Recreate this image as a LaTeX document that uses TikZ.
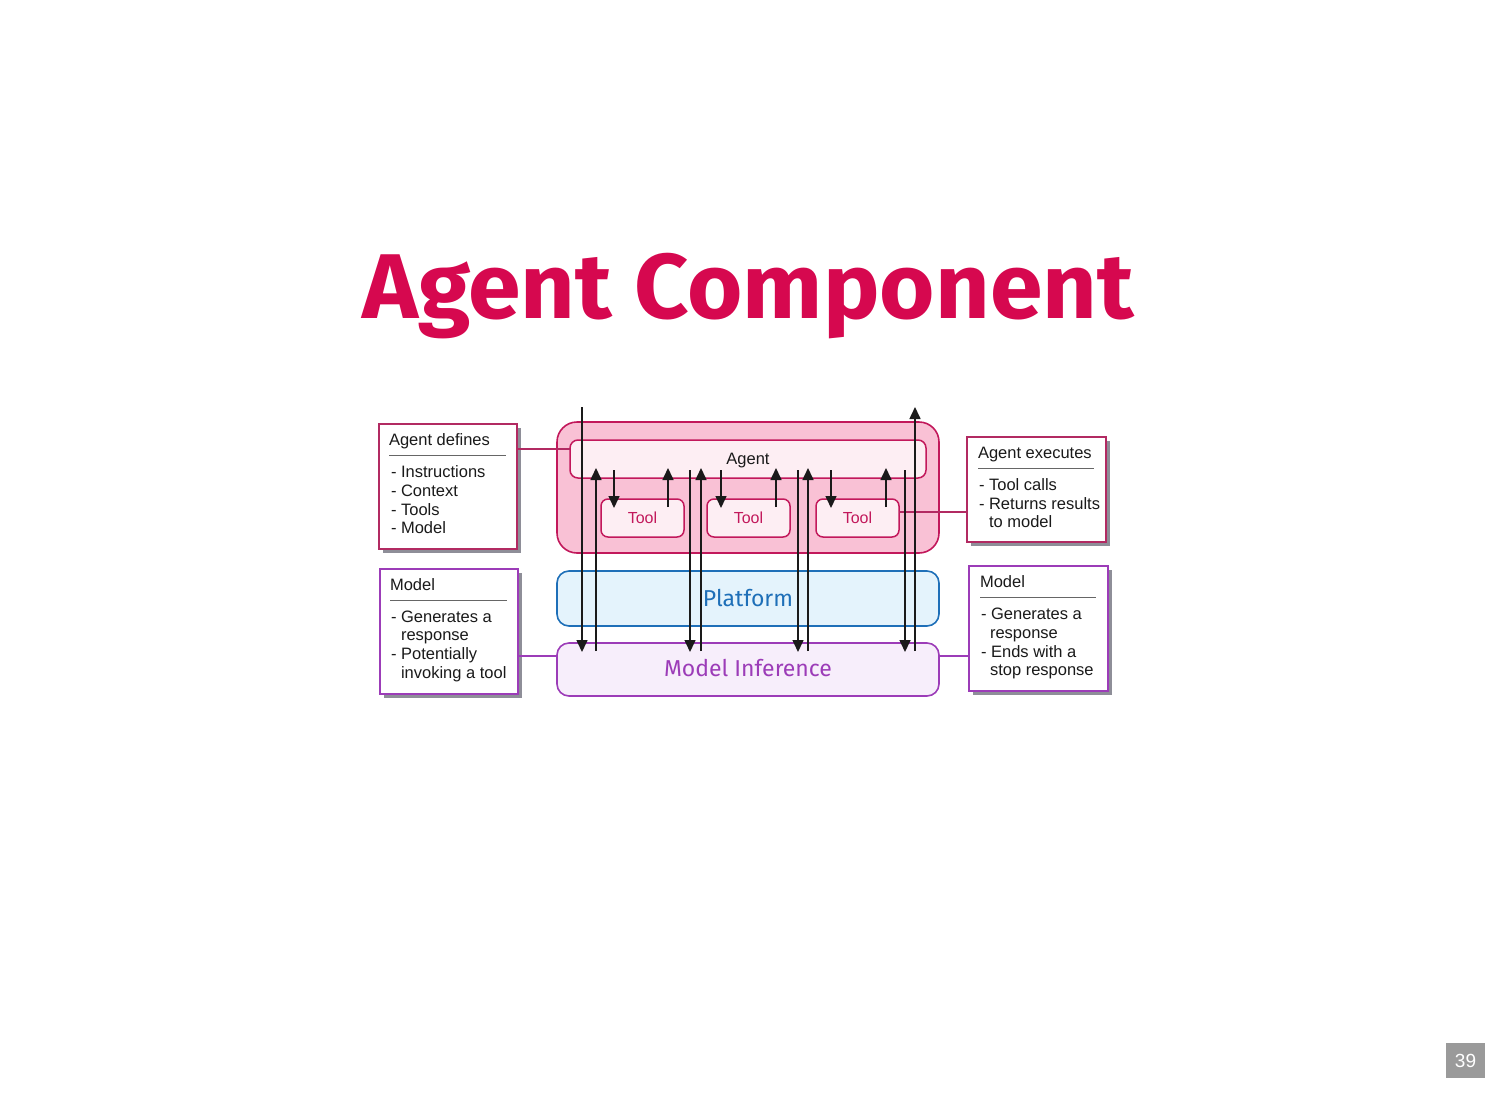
\documentclass[tikz,border=0pt]{standalone}
\usepackage{graphicx}
\usepackage{fontspec}
\setmainfont{Liberation Sans}
\newfontfamily\titlefont{Fira Sans}
\usetikzlibrary{arrows.meta,shadows}
\definecolor{crim}{HTML}{D6084F}
\definecolor{rosedraw}{HTML}{C2185B}
\definecolor{rosefill}{HTML}{F9C1D5}
\definecolor{rosepale}{HTML}{FDEEF3}
\definecolor{platdraw}{HTML}{1E6FB8}
\definecolor{platfill}{HTML}{E4F3FC}
\definecolor{purp}{HTML}{9C3CB8}
\definecolor{purpfill}{HTML}{F7EEFB}
\definecolor{notebord}{HTML}{B22A62}
\definecolor{shadowg}{HTML}{8E8E98}
\definecolor{pagegray}{HTML}{9A9A9A}
\definecolor{ink}{HTML}{1A1A1A}
\begin{document}
\begin{tikzpicture}[x=1pt,y=-1pt,
  every node/.style={inner sep=0pt, outer sep=0pt},
  bigbox/.style={draw, line width=1.6pt, rounded corners=#1, anchor=north west},
  toolbox/.style={draw=rosedraw, fill=rosepale, line width=1.5pt, rounded corners=7pt,
     minimum width=83pt, minimum height=38pt, anchor=north west, text=rosedraw, font=\fontsize{16}{18}\selectfont},
  notebox/.style={draw=#1, fill=white, line width=1.8pt, anchor=north west,
     drop shadow={shadow xshift=4pt, shadow yshift=-4pt, fill=shadowg, opacity=1}},
  notetxt/.style={anchor=base west, font=\fontsize{16.5}{18}\selectfont, text=ink},
  rule/.style={draw=gray!80!black, line width=0.9pt},
  arr/.style={draw=ink, line width=1.6pt, -{Triangle[length=12pt,width=11pt]}},
  link/.style={line width=1.5pt}
]
\useasboundingbox (0,0) rectangle (1498,1092);

% title
\node[text=crim, font=\titlefont\bfseries\fontsize{92}{96}\selectfont, anchor=base] (title) at (748,318) {\scalebox{1.032}[1]{Agent Component}};

% main boxes
\node[bigbox=20pt, draw=rosedraw, fill=rosefill, minimum width=382pt, minimum height=131pt] (outer) at (557,422) {};
\node[bigbox=8pt, draw=rosedraw, fill=rosepale, minimum width=356pt, minimum height=38pt, line width=1.5pt] (agent) at (570,440) {};
\node[text=ink, font=\fontsize{16.5}{18}\selectfont, anchor=base] (agentlbl) at (748,464) {Agent};
\node[toolbox] (tool1) at (601,499) {Tool};
\node[toolbox] (tool2) at (707,499) {Tool};
\node[toolbox] (tool3) at (816,499) {Tool};
\node[bigbox=12pt, draw=platdraw, fill=platfill, minimum width=382pt, minimum height=55pt] (plat) at (557,571) {};
\node[text=platdraw, font=\titlefont\fontsize{23}{26}\selectfont, anchor=base] (platlbl) at (748,606) {Platform};
\node[bigbox=12pt, draw=purp, fill=purpfill, minimum width=382pt, minimum height=53pt] (mi) at (557,643) {};
\node[text=purp, font=\titlefont\fontsize{23}{26}\selectfont, anchor=base] (milbl) at (748,676) {Model Inference};

% note boxes
\node[notebox=notebord, minimum width=138pt, minimum height=125pt] (ad) at (379,424) {};
\node[notetxt] (ad0) at (389,445) {Agent defines};
\draw[rule] (389,455) -- (506,455);
\node[notetxt] (ad1) at (391,477) {- Instructions};
\node[notetxt] (ad2) at (391,496) {- Context};
\node[notetxt] (ad3) at (391,515) {- Tools};
\node[notetxt] (ad4) at (391,533) {- Model};

\node[notebox=purp, minimum width=138pt, minimum height=125pt] (ml) at (380,569) {};
\node[notetxt] (ml0) at (390,590) {Model};
\draw[rule] (390,600) -- (507,600);
\node[notetxt] (ml1) at (391,622) {- Generates a};
\node[notetxt] (ml2) at (401,640) {response};
\node[notetxt] (ml3) at (391,659) {- Potentially};
\node[notetxt] (ml4) at (401,678) {invoking a tool};

\node[notebox=notebord, minimum width=139pt, minimum height=105pt] (ae) at (967,437) {};
\node[notetxt] (ae0) at (978,458) {Agent executes};
\draw[rule] (978,468) -- (1094,468);
\node[notetxt] (ae1) at (979,490) {- Tool calls};
\node[notetxt] (ae2) at (979,509) {- Returns results};
\node[notetxt] (ae3) at (989,527) {to model};

\node[notebox=purp, minimum width=139pt, minimum height=125pt] (mr) at (969,566) {};
\node[notetxt] (mr0) at (980,587) {Model};
\draw[rule] (980,597) -- (1096,597);
\node[notetxt] (mr1) at (981,619) {- Generates a};
\node[notetxt] (mr2) at (990,638) {response};
\node[notetxt] (mr3) at (981,657) {- Ends with a};
\node[notetxt] (mr4) at (990,675) {stop response};

% note links
\draw[link, draw=notebord] (ad.east |- 0,449) -- (agent.west |- 0,449);
\draw[link, draw=notebord] (tool3.east |- 0,512) -- (ae.west |- 0,512);
\draw[link, draw=purp] (ml.east |- 0,656) -- (mi.west |- 0,656);
\draw[link, draw=purp] (mi.east |- 0,656) -- (mr.west |- 0,656);

% entry / exit
\coordinate (inTop) at (582,407);
\coordinate (outTop) at (915,407);

% long arrows agent <-> model inference
\draw[arr] (inTop) -- ([yshift=-9pt]mi.north -| inTop);
\draw[arr] ([yshift=-8pt]mi.north -| 596,0) -- ([yshift=10pt]agent.south -| 596,0);
\draw[arr] ([yshift=8pt]agent.south -| 690,0) -- ([yshift=-9pt]mi.north -| 690,0);
\draw[arr] ([yshift=-8pt]mi.north -| 701,0) -- ([yshift=10pt]agent.south -| 701,0);
\draw[arr] ([yshift=8pt]agent.south -| 798,0) -- ([yshift=-9pt]mi.north -| 798,0);
\draw[arr] ([yshift=-8pt]mi.north -| 808,0) -- ([yshift=10pt]agent.south -| 808,0);
\draw[arr] ([yshift=8pt]agent.south -| 905,0) -- ([yshift=-9pt]mi.north -| 905,0);
\draw[arr] ([yshift=-8pt]mi.north -| outTop) -- (outTop);

% agent <-> tools
\draw[arr] ([yshift=8pt]agent.south -| 614,0) -- ([yshift=-9pt]tool1.north -| 614,0);
\draw[arr] ([yshift=-8pt]tool1.north -| 668,0) -- ([yshift=10pt]agent.south -| 668,0);
\draw[arr] ([yshift=8pt]agent.south -| 721,0) -- ([yshift=-9pt]tool2.north -| 721,0);
\draw[arr] ([yshift=-8pt]tool2.north -| 776,0) -- ([yshift=10pt]agent.south -| 776,0);
\draw[arr] ([yshift=8pt]agent.south -| 831,0) -- ([yshift=-9pt]tool3.north -| 831,0);
\draw[arr] ([yshift=-8pt]tool3.north -| 886,0) -- ([yshift=10pt]agent.south -| 886,0);

% page number
\node[fill=pagegray, text=white, minimum width=39pt, minimum height=35pt, font=\fontsize{19}{20}\selectfont] (page) at (1465.5,1060.5) {39};
\end{tikzpicture}
\end{document}
